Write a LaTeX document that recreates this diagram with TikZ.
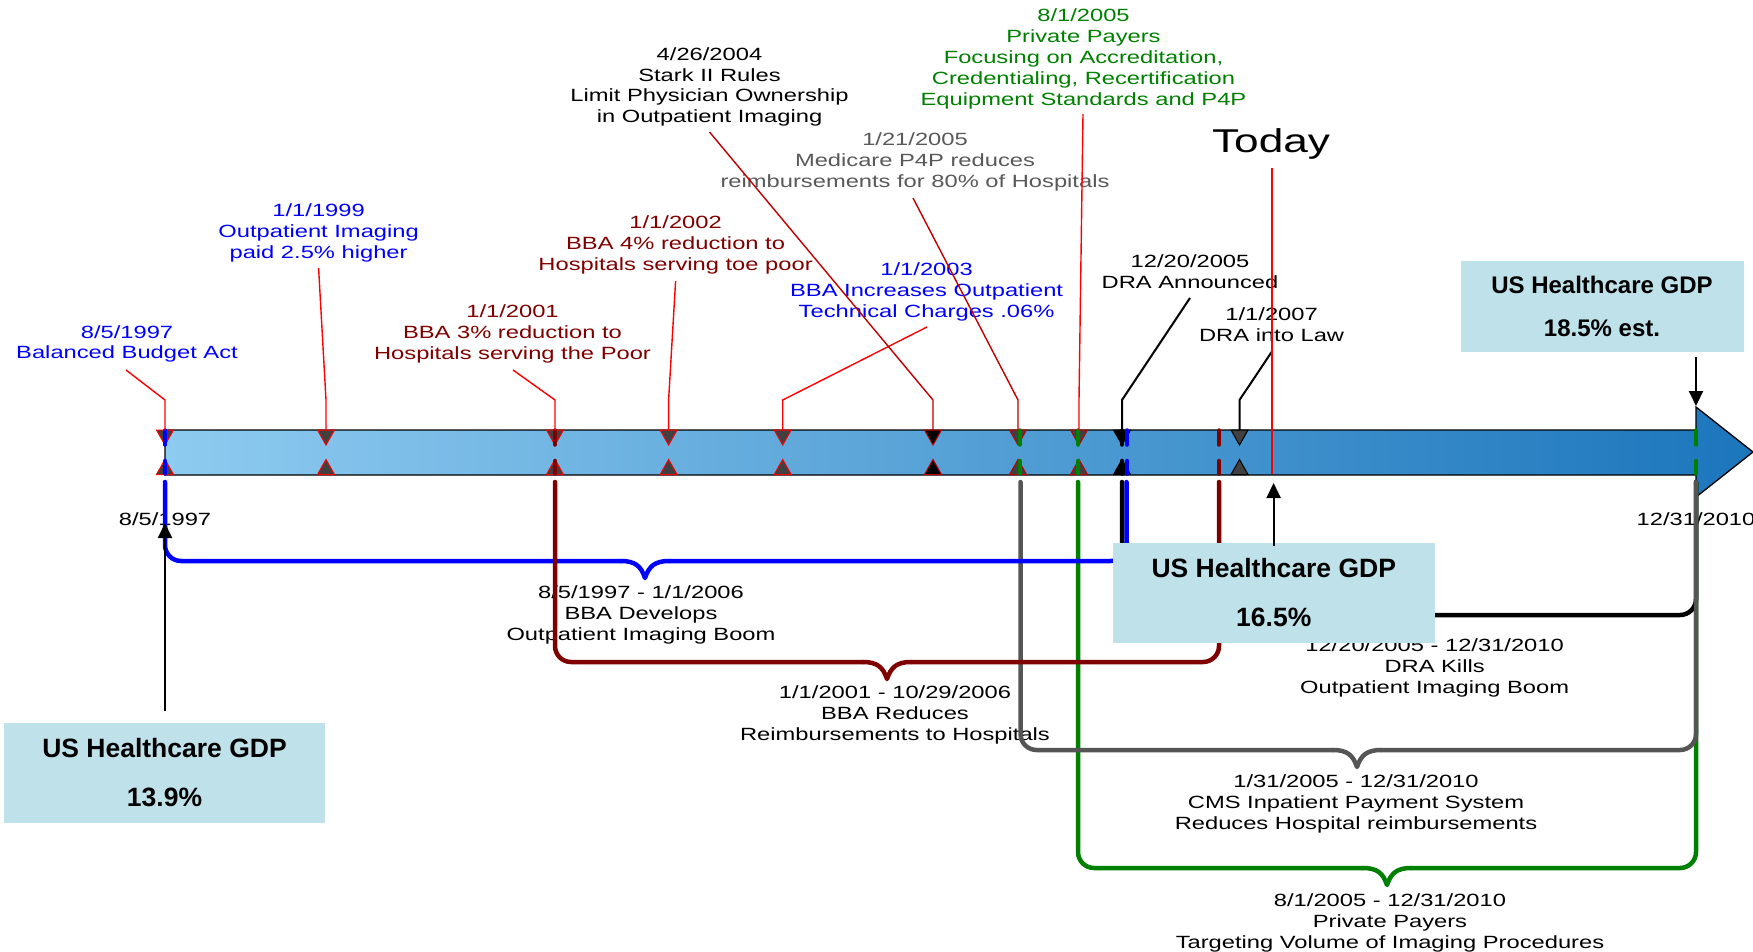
\documentclass[tikz,border=0pt]{standalone}
\usepackage{fontspec}
\setmainfont{Liberation Sans}
\newfontfamily\tlfam{Liberation Sans}[FakeStretch=1.34]
\newfontfamily\gdpfam{Liberation Sans}
\usetikzlibrary{arrows.meta}
\definecolor{tlblue}{RGB}{0,0,255}
\definecolor{tlmaroon}{RGB}{128,0,0}
\definecolor{tlgreen}{RGB}{0,128,0}
\definecolor{tlgray}{RGB}{85,85,85}
\definecolor{tlgraytext}{RGB}{89,89,89}
\definecolor{tlred}{RGB}{255,0,0}
\definecolor{tldred}{RGB}{192,0,0}
\definecolor{boxblue}{RGB}{191,226,234}
\definecolor{barL}{RGB}{142,203,240}
\definecolor{barR}{RGB}{28,118,188}
\definecolor{mkfill}{RGB}{64,64,64}
\tikzset{
  lbl/.style={font={\tlfam\fontsize{17.7}{20.8}\selectfont}, align=center, inner sep=0pt},
  lead/.style={line width=1.4pt},
  blead/.style={line width=2pt, black},
  brk/.style={line width=4.5pt, line cap=round, line join=round},
  mk/.style={line width=1pt, line join=miter},
  gdpbox/.style={fill=boxblue, inner sep=0pt, align=center, text=black},
  gdparrow/.style={-{Triangle[length=15pt,width=14pt]}, line width=2pt, black}
}
\newcommand{\tlbrk}[5]{%
  \draw[brk,#1,rounded corners=16pt] (#2,482) -- (#2,#4) -- ({#5-24},#4);
  \draw[brk,#1] ({#5-24},#4) .. controls ({#5-10},#4) and ({#5-4},{#4+5}) .. (#5,{#4+17})
     .. controls ({#5+4},{#4+5}) and ({#5+10},#4) .. ({#5+24},#4);
  \draw[brk,#1,rounded corners=16pt] ({#5+24},#4) -- (#3,#4) -- (#3,482);}
\newcommand{\tlmk}[3]{%
  \filldraw[mk,fill=#2,draw=#3] ({#1-8.5},430) -- ({#1+8.5},430) -- (#1,445) -- cycle;
  \filldraw[mk,fill=#2,draw=#3] ({#1-8.5},474.5) -- ({#1+8.5},474.5) -- (#1,459.5) -- cycle;}
\newcommand{\tldash}[2]{%
  \draw[brk,#1] (#2,430.5) -- (#2,444.5);
  \draw[brk,#1] (#2,461) -- (#2,473.5);}
\begin{document}
\begin{tikzpicture}[x=1pt,y=-1pt]
\useasboundingbox (0,0) rectangle (1753,951);
\fill[white] (0,0) rectangle (1753,951);

% timeline bar
\shade[left color=barL, right color=barR] (165,430) -- (1696,430) -- (1696,407) -- (1753,452) -- (1696,497) -- (1696,475) -- (165,475) -- cycle;
\draw[line width=1.3pt, line join=miter] (165,430) -- (1696,430) -- (1696,407) -- (1753,452) -- (1696,497) -- (1696,475) -- (165,475) -- cycle;

% event texts above
\node[lbl, text=tlblue] (t1) at (127,344) {8/5/1997\\Balanced Budget Act};
\node[lbl, text=tlblue] (t2) at (318.6,233) {1/1/1999\\Outpatient Imaging\\paid 2.5\% higher};
\node[lbl, text=tlmaroon] (t3) at (512.5,334) {1/1/2001\\BBA 3\% reduction to\\Hospitals serving the Poor};
\node[lbl, text=tlmaroon] (t4) at (675.6,245) {1/1/2002\\BBA 4\% reduction to\\Hospitals serving toe poor};
\node[lbl, text=tlblue] (t5) at (926.6,292) {1/1/2003\\BBA Increases Outpatient\\Technical Charges .06\%};
\node[lbl] (t6) at (709.5,87) {4/26/2004\\Stark II Rules\\Limit Physician Ownership\\in Outpatient Imaging};
\node[lbl, text=tlgraytext] (t7) at (915,162) {1/21/2005\\Medicare P4P reduces\\reimbursements for 80\% of Hospitals};
\node[lbl, text=tlgreen] (t8) at (1083.5,59) {8/1/2005\\Private Payers\\Focusing on Accreditation,\\Credentialing, Recertification\\Equipment Standards and P4P};
\node[font={\tlfam\fontsize{33}{38}\selectfont}, inner sep=0pt] (today) at (1271,144) {Today};
\node[lbl] (t10) at (1190,272) {12/20/2005\\DRA Announced};
\node[lbl] (t11) at (1271.6,325) {1/1/2007\\DRA into Law};

% texts below
\node[lbl] (d1) at (165,519) {8/5/1997};
\node[lbl] (d2) at (1696,519) {12/31/2010};
\node[lbl] (b1) at (641,615) {8/5/1997 - 1/1/2006\\BBA Develops\\Outpatient Imaging Boom};
\node[lbl] (b2) at (895,715) {1/1/2001 - 10/29/2006\\BBA Reduces\\Reimbursements to Hospitals};
\node[lbl] (b3) at (1434.6,668) {12/20/2005 - 12/31/2010\\DRA Kills\\Outpatient Imaging Boom};
\node[lbl] (b4) at (1356,804) {1/31/2005 - 12/31/2010\\CMS Inpatient Payment System\\Reduces Hospital reimbursements};
\node[lbl] (b5) at (1390,923) {8/1/2005 - 12/31/2010\\Private Payers\\Targeting Volume of Imaging Procedures};

% brackets
\tlbrk{tlgreen}{1078}{1696}{868}{1387}
\tlbrk{black}{1122}{1696}{615}{1408}
\tlbrk{tlgray}{1020.5}{1696}{750}{1357}
\tlbrk{tlblue}{165}{1126.5}{561}{645}
\tlbrk{tlmaroon}{555}{1219}{662}{887}

% markers
\tlmk{165}{mkfill}{tlred}
\tlmk{326}{mkfill}{tlred}
\tlmk{555}{mkfill}{tlred}
\tlmk{668.6}{mkfill}{tlred}
\tlmk{782.7}{mkfill}{tlred}
\tlmk{933}{black}{tldred}
\tlmk{1018}{mkfill}{tldred}
\tlmk{1079}{mkfill}{tldred}
\tlmk{1122}{black}{black}
\tlmk{1239.5}{mkfill}{black}

% coloured dashes across the bar
\tldash{tlblue}{165}
\tldash{tlmaroon}{555}
\tldash{tlgreen}{1020}
\tldash{tlgreen}{1078}
\tldash{black}{1122}
\tldash{tlblue}{1127}
\tldash{tlmaroon}{1219}
\tldash{tlgreen}{1696}

% leader coordinates
\coordinate (s1) at (126,370);   \coordinate (k1) at (165,400);   \coordinate (m1) at (165,430);
\coordinate (s2) at (318.6,268); \coordinate (k2) at (326,400);   \coordinate (m2) at (326,430);
\coordinate (s3) at (513,370);   \coordinate (k3) at (555,400);   \coordinate (m3) at (555,430);
\coordinate (s4) at (675.6,281); \coordinate (k4) at (668.6,400); \coordinate (m4) at (668.6,430);
\coordinate (s5) at (927,327);   \coordinate (k5) at (782.7,400); \coordinate (m5) at (782.7,430);
\coordinate (s6) at (709.5,132); \coordinate (k6) at (933,400);   \coordinate (m6) at (933,430);
\coordinate (s7) at (913,198);   \coordinate (k7) at (1018,400);  \coordinate (m7) at (1018,430);
\coordinate (s8) at (1083,114);  \coordinate (k8) at (1079,400);  \coordinate (m8) at (1079,430);
\coordinate (s9) at (1190,298);  \coordinate (k9) at (1122,400);  \coordinate (m9) at (1122,430);
\coordinate (s10) at (1271.6,352); \coordinate (k10) at (1239.5,400); \coordinate (m10) at (1239.5,430);
\coordinate (ts) at (1272,168);  \coordinate (te) at (1272,474);

\draw[lead,tlred] (s1) -- (k1) -- (m1);
\draw[lead,tlred] (s2) -- (k2) -- (m2);
\draw[lead,tlred] (s3) -- (k3) -- (m3);
\draw[lead,tlred] (s4) -- (k4) -- (m4);
\draw[lead,tlred] (s5) -- (k5) -- (m5);
\draw[lead,tldred] (s6) -- (k6) -- (m6);
\draw[lead,tldred] (s7) -- (k7) -- (m7);
\draw[lead,tlred] (s8) -- (k8) -- (m8);
\draw[blead] (s9) -- (k9) -- (m9);
\draw[blead] (s10) -- (k10) -- (m10);
\draw[lead,tlred] (ts) -- (te);

% GDP boxes
\node[gdpbox, minimum width=321pt, minimum height=100pt, font={\gdpfam\bfseries\fontsize{26.5}{49}\selectfont}] (g1) at (164.5,773) {US Healthcare GDP\\13.9\%};
\node[gdpbox, minimum width=322pt, minimum height=100pt, font={\gdpfam\bfseries\fontsize{26.5}{49}\selectfont}] (g2) at (1273.8,593) {US Healthcare GDP\\16.5\%};
\node[gdpbox, minimum width=283pt, minimum height=91pt, font={\gdpfam\bfseries\fontsize{24}{43}\selectfont}] (g3) at (1602,306.5) {US Healthcare GDP\\18.5\% est.};

% GDP arrows
\coordinate (a1s) at (165,711);    \coordinate (a1e) at (165,523);
\coordinate (a2s) at (1273.6,546); \coordinate (a2e) at (1273.6,483);
\coordinate (a3s) at (1696,357);   \coordinate (a3e) at (1696,406);
\draw[gdparrow] (a1s) -- (a1e);
\draw[gdparrow] (a2s) -- (a2e);
\draw[gdparrow] (a3s) -- (a3e);
\end{tikzpicture}
\end{document}
